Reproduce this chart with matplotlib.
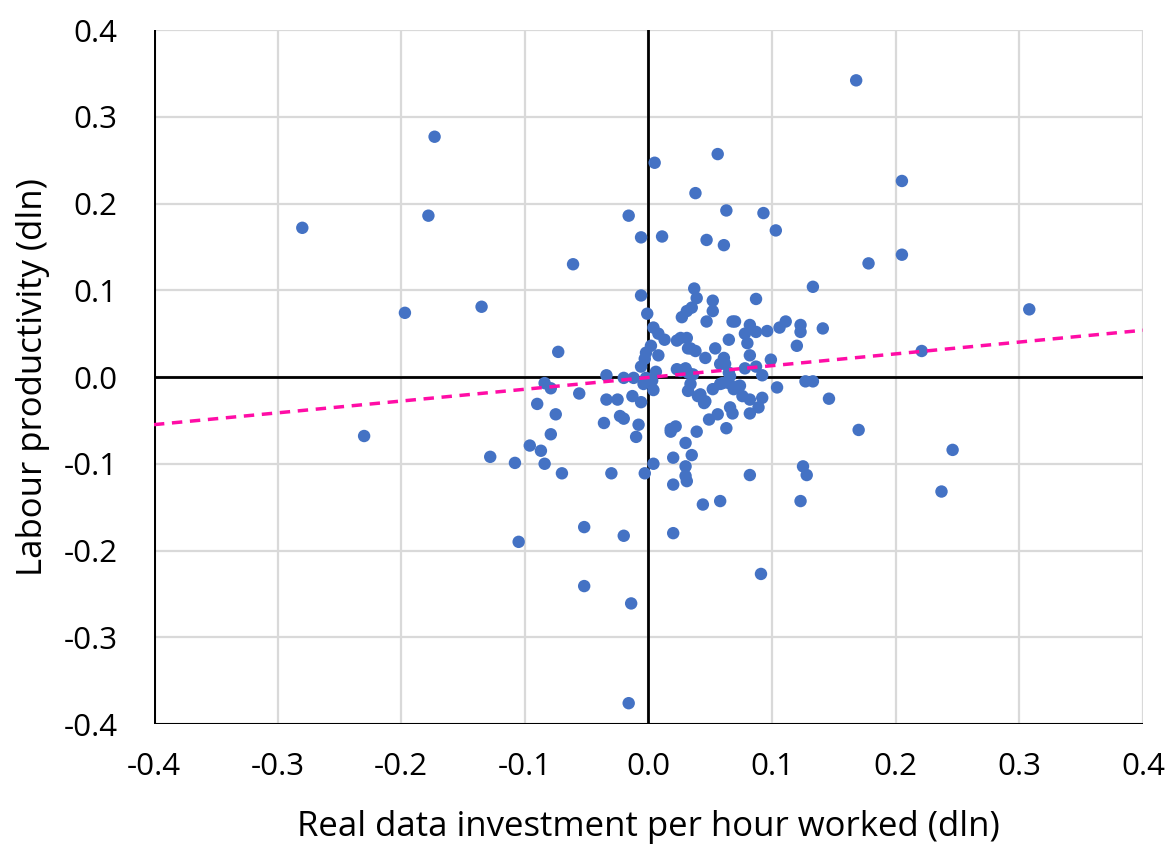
"""
Scatter of labour productivity against real data investment per hour worked.
"""
import matplotlib
matplotlib.use("Agg")
import matplotlib.pyplot as plt
import numpy as np

# values (dln)
invest = [
    -0.280, -0.173, -0.178, -0.197, -0.135, -0.230, -0.128, -0.108, -0.105, -0.096,
    -0.090, -0.087, -0.084, -0.084, -0.079, -0.079, -0.075, -0.073, -0.070, -0.061,
    -0.056, -0.052, -0.052, -0.034, -0.036, -0.034, -0.030, -0.025, -0.023, -0.020,
    -0.020, -0.020, -0.016, -0.014, -0.016, -0.013, -0.010, -0.008, -0.012, -0.006,
    -0.004, -0.003, 0.004, 0.004, -0.002, -0.006, 0.011, -0.006, -0.001, 0.004,
    0.008, 0.013, 0.002, -0.002, -0.003, -0.006, 0.008, 0.006, 0.005, 0.018,
    0.018, 0.039, 0.030, 0.020, 0.035, 0.030, 0.030, 0.031, 0.020, 0.044,
    0.032, 0.034, 0.040, 0.042, 0.046, 0.052, 0.058, 0.065, 0.069, 0.074,
    0.076, 0.082, 0.092, 0.089, 0.082, 0.068, 0.066, 0.056, 0.049, 0.063,
    0.104, 0.127, 0.133, 0.146, 0.082, 0.125, 0.128, 0.058, 0.123, 0.023,
    0.026, 0.030, 0.032, 0.036, 0.023, 0.026, 0.031, 0.032, 0.038, 0.027,
    0.031, 0.035, 0.037, 0.039, 0.047, 0.061, 0.133, 0.087, 0.052, 0.052,
    0.047, 0.068, 0.070, 0.082, 0.087, 0.078, 0.080, 0.096, 0.106, 0.111,
    0.123, 0.123, 0.141, 0.120, 0.065, 0.082, 0.099, 0.087, 0.092, 0.078,
    0.061, 0.062, 0.058, 0.065, 0.054, 0.046, 0.034, 0.066, 0.072, 0.060,
    0.038, 0.056, 0.063, 0.093, 0.103, 0.168, 0.205, 0.205, 0.178, 0.308,
    0.221, 0.170, 0.246, 0.237, 0.091, 0.020, 0.022, 0.045, 0.003,
]
productivity = [
    0.172, 0.277, 0.186, 0.074, 0.081, -0.068, -0.092, -0.099, -0.190, -0.079,
    -0.031, -0.085, -0.100, -0.007, -0.013, -0.066, -0.043, 0.029, -0.111, 0.130,
    -0.019, -0.173, -0.241, 0.002, -0.053, -0.026, -0.111, -0.026, -0.045, -0.048,
    -0.183, -0.001, 0.186, -0.261, -0.376, -0.022, -0.069, -0.055, -0.001, -0.029,
    -0.008, -0.111, -0.100, -0.015, -0.001, 0.161, 0.162, 0.094, 0.073, 0.057,
    0.050, 0.043, 0.036, 0.028, 0.021, 0.012, 0.025, 0.006, 0.247, -0.060,
    -0.063, -0.063, -0.076, -0.093, -0.090, -0.103, -0.114, -0.120, -0.124, -0.147,
    -0.016, -0.008, -0.022, -0.020, -0.028, -0.014, -0.008, -0.007, -0.014, -0.010,
    -0.022, -0.026, -0.024, -0.035, -0.042, -0.042, -0.035, -0.043, -0.049, -0.059,
    -0.012, -0.005, -0.005, -0.025, -0.113, -0.103, -0.113, -0.143, -0.143, 0.009,
    0.007, 0.010, 0.005, 0.003, 0.042, 0.045, 0.045, 0.033, 0.030, 0.069,
    0.076, 0.080, 0.102, 0.091, 0.158, 0.152, 0.104, 0.090, 0.088, 0.076,
    0.064, 0.064, 0.064, 0.060, 0.052, 0.050, 0.039, 0.053, 0.057, 0.064,
    0.060, 0.052, 0.056, 0.036, 0.043, 0.025, 0.020, 0.012, 0.002, 0.010,
    0.022, 0.015, 0.015, 0.005, 0.033, 0.022, 0.033, 0.001, -0.011, -0.007,
    0.212, 0.257, 0.192, 0.189, 0.169, 0.342, 0.226, 0.141, 0.131, 0.078,
    0.030, -0.061, -0.084, -0.132, -0.227, -0.180, -0.057, -0.030, -0.004,
]

# linear trendline as shown in the chart
trend_slope = 0.136
trend_intercept = -0.0005

ticks = [-0.4, -0.3, -0.2, -0.1, 0.0, 0.1, 0.2, 0.3, 0.4]
tick_labels = ["-0.4", "-0.3", "-0.2", "-0.1", "0.0", "0.1", "0.2", "0.3", "0.4"]

plt.rcParams["font.family"] = ["Open Sans", "DejaVu Sans"]

fig = plt.figure(figsize=(11.68, 8.46), dpi=100)
ax = fig.add_axes([0.1318, 0.1442, 0.8468, 0.8203])

ax.set_xlim(-0.4, 0.4)
ax.set_ylim(-0.4, 0.4)

# light grid, drawn by hand so the outer edges stay grey
for t in ticks:
    ax.axvline(t, color="#D9D9D9", lw=1.6, zorder=0)
    ax.axhline(t, color="#D9D9D9", lw=1.6, zorder=0)

# black axis lines at the left/bottom and through zero
ax.axvline(0, color="black", lw=2, zorder=1)
ax.axhline(0, color="black", lw=2, zorder=1)
ax.axvline(-0.4, color="black", lw=2.2, zorder=1)
ax.axhline(-0.4, color="black", lw=2.2, zorder=1)

for s in ax.spines.values():
    s.set_visible(False)

ax.scatter(invest, productivity, s=80, color="#4472C4", edgecolors="none", zorder=3)

xs = np.array([-0.4, 0.4])
ax.plot(xs, trend_slope * xs + trend_intercept, color="#FF0DA6", lw=2.5,
        ls=(0, (3, 2.2)), zorder=4)

ax.set_xticks(ticks)
ax.set_xticklabels(tick_labels)
ax.set_yticks(ticks)
ax.set_yticklabels(tick_labels)
ax.tick_params(axis="both", length=0, labelsize=22.5)
ax.tick_params(axis="x", pad=20)
ax.tick_params(axis="y", pad=26)

ax.set_xlabel("Real data investment per hour worked (dln)", fontsize=25, labelpad=20)
ax.set_ylabel("Labour productivity (dln)", fontsize=25, labelpad=10)

plt.savefig("out.png", dpi=100)
